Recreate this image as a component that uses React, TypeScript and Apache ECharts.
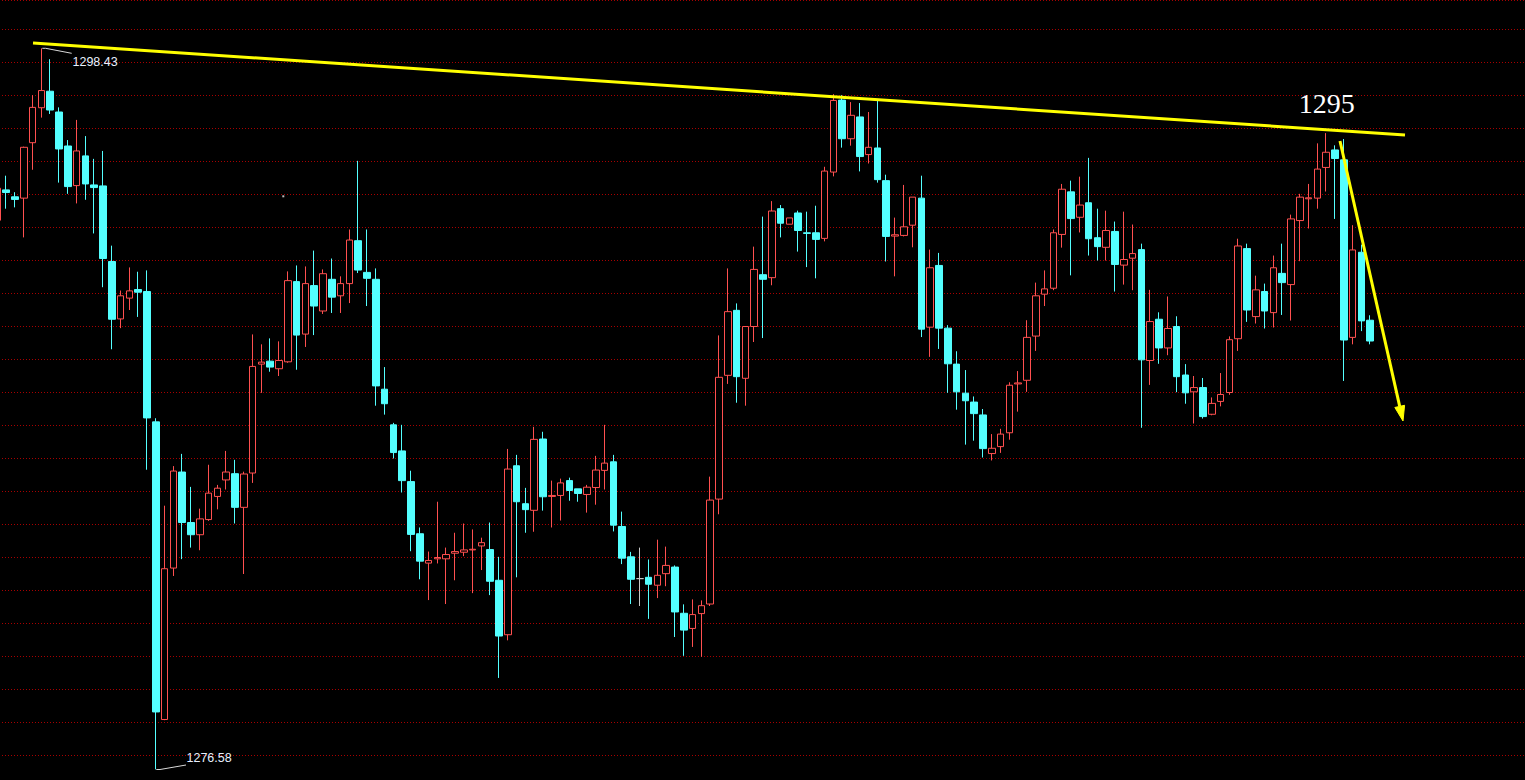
import React, { useEffect, useRef } from "react";
import * as echarts from "echarts";

// OHLC values, one entry per candle (left to right)
const opens = [
  1293.22, 1294.14, 1293.93, 1293.89, 1295.57, 1296.63, 1297.13, 1296.50, 1295.47, 1294.27,
  1295.17, 1294.29, 1294.26, 1291.97, 1290.23, 1290.86, 1291.12, 1291.06, 1287.11, 1278.09,
  1282.68, 1285.59, 1284.06, 1283.69, 1284.15, 1284.85, 1285.35, 1285.54, 1284.52, 1285.56,
  1288.86, 1288.95, 1288.72, 1288.93, 1291.36, 1289.77, 1291.24, 1290.47, 1291.43, 1290.93,
  1291.30, 1292.60, 1291.64, 1291.43, 1288.10, 1287.02, 1286.23, 1285.30, 1283.72, 1282.83,
  1282.96, 1282.96, 1283.13, 1283.16, 1283.23, 1283.35, 1283.24, 1282.31, 1280.66, 1285.78,
  1284.63, 1284.43, 1286.59, 1284.85, 1284.88, 1285.33, 1285.08, 1284.91, 1285.12, 1285.64,
  1285.90, 1283.94, 1283.02, 1282.36, 1282.40, 1282.16, 1282.51, 1282.71, 1281.31, 1280.85,
  1281.30, 1281.59, 1284.77, 1288.52, 1290.49, 1288.43, 1290.00, 1291.57, 1291.48, 1293.57,
  1293.10, 1293.44, 1292.84, 1292.84, 1292.67, 1294.68, 1296.86, 1295.69, 1296.35, 1295.21,
  1295.41, 1294.42, 1292.74, 1292.76, 1293.07, 1293.89, 1289.98, 1291.85, 1289.95, 1288.86,
  1287.98, 1287.71, 1287.32, 1286.15, 1286.36, 1286.78, 1288.26, 1288.37, 1289.71, 1290.98,
  1291.16, 1292.79, 1294.08, 1293.31, 1293.75, 1292.69, 1292.40, 1292.88, 1291.86, 1292.07,
  1292.33, 1288.97, 1290.22, 1289.35, 1290.00, 1288.53, 1288.02, 1288.15, 1287.34, 1287.73,
  1288.00, 1289.63, 1292.36, 1290.30, 1291.06, 1290.42, 1291.61, 1291.27, 1293.21, 1293.87,
  1293.89, 1294.82, 1295.35, 1295.05, 1289.67, 1292.25, 1290.19,
];
const closes = [
  1294.19, 1294.06, 1293.85, 1295.43, 1296.64, 1297.15, 1296.56, 1295.38, 1294.24, 1295.32,
  1294.32, 1294.21, 1292.06, 1290.22, 1290.93, 1291.08, 1291.04, 1287.23, 1278.32, 1282.66,
  1285.62, 1284.06, 1283.69, 1284.17, 1284.95, 1285.10, 1285.59, 1284.52, 1285.53, 1288.79,
  1288.92, 1288.77, 1288.97, 1291.39, 1289.74, 1291.30, 1290.62, 1291.60, 1290.89, 1291.30,
  1292.62, 1291.71, 1291.46, 1288.20, 1287.66, 1286.18, 1285.33, 1283.70, 1282.89, 1282.91,
  1283.00, 1283.09, 1283.18, 1283.23, 1283.25, 1283.45, 1282.28, 1280.62, 1285.68, 1284.69,
  1284.45, 1286.58, 1284.84, 1284.88, 1285.26, 1285.03, 1284.94, 1285.13, 1285.65, 1285.86,
  1283.98, 1282.98, 1282.34, 1282.36, 1282.19, 1282.46, 1282.76, 1281.35, 1280.80, 1281.27,
  1281.54, 1284.74, 1288.46, 1290.45, 1288.48, 1290.00, 1291.73, 1291.43, 1293.50, 1293.13,
  1293.29, 1292.91, 1292.82, 1292.64, 1294.71, 1296.85, 1295.69, 1296.40, 1295.15, 1295.43,
  1294.45, 1292.73, 1292.78, 1293.02, 1293.92, 1289.92, 1291.78, 1289.95, 1288.87, 1288.02,
  1287.75, 1287.36, 1286.30, 1286.31, 1286.74, 1288.22, 1288.29, 1289.67, 1290.93, 1291.14,
  1292.84, 1294.16, 1293.27, 1293.68, 1292.66, 1292.42, 1292.91, 1291.88, 1292.03, 1292.21,
  1288.99, 1290.15, 1289.35, 1289.94, 1288.48, 1287.99, 1288.15, 1287.27, 1287.67, 1287.94,
  1289.60, 1292.44, 1290.50, 1291.11, 1290.47, 1291.78, 1291.33, 1293.26, 1293.92, 1293.90,
  1294.77, 1295.28, 1295.09, 1289.59, 1292.32, 1290.17, 1289.56,
];
const lows = [
  1292.75, 1293.57, 1293.61, 1292.70, 1294.75, 1296.33, 1296.44, 1294.36, 1294.02, 1293.73,
  1293.84, 1292.82, 1291.19, 1289.31, 1289.95, 1290.50, 1290.29, 1285.66, 1276.58, 1278.07,
  1282.44, 1282.95, 1283.30, 1283.22, 1284.11, 1284.46, 1285.06, 1284.03, 1282.50, 1285.26,
  1287.99, 1288.63, 1288.50, 1288.90, 1288.69, 1289.38, 1289.74, 1290.38, 1290.41, 1290.41,
  1290.71, 1291.62, 1290.62, 1287.60, 1287.33, 1286.00, 1284.97, 1283.19, 1282.34, 1281.71,
  1282.82, 1281.59, 1282.31, 1283.04, 1281.92, 1282.62, 1281.86, 1279.35, 1280.49, 1282.40,
  1283.75, 1283.78, 1284.42, 1283.91, 1284.12, 1284.72, 1284.69, 1284.36, 1284.60, 1285.06,
  1283.79, 1282.80, 1281.59, 1281.53, 1281.14, 1281.77, 1282.13, 1280.59, 1280.02, 1280.29,
  1279.99, 1281.53, 1284.31, 1288.26, 1287.69, 1287.60, 1289.53, 1289.65, 1291.25, 1292.70,
  1293.10, 1292.27, 1291.80, 1291.46, 1292.58, 1294.55, 1295.42, 1295.48, 1294.70, 1294.94,
  1294.36, 1291.97, 1291.52, 1292.73, 1292.40, 1289.68, 1289.08, 1289.32, 1287.99, 1287.48,
  1286.42, 1286.54, 1286.03, 1285.94, 1286.17, 1286.57, 1287.42, 1288.02, 1289.26, 1290.62,
  1291.10, 1292.39, 1291.55, 1292.85, 1292.15, 1292.00, 1292.00, 1291.06, 1291.27, 1291.10,
  1286.93, 1288.23, 1288.87, 1289.13, 1288.01, 1287.66, 1287.06, 1287.21, 1287.31, 1287.58,
  1287.93, 1289.26, 1290.14, 1290.09, 1289.94, 1289.97, 1290.35, 1290.18, 1291.98, 1292.97,
  1293.57, 1294.09, 1293.26, 1288.35, 1289.46, 1289.86, 1289.46,
];
const highs = [
  1294.35, 1294.57, 1294.07, 1295.45, 1297.01, 1298.43, 1298.10, 1296.64, 1295.65, 1296.26,
  1295.77, 1295.08, 1295.32, 1292.45, 1291.09, 1291.79, 1291.66, 1291.70, 1287.22, 1284.57,
  1285.77, 1286.14, 1285.14, 1284.48, 1285.81, 1285.20, 1286.23, 1285.96, 1285.60, 1289.76,
  1289.46, 1289.64, 1289.55, 1291.67, 1291.85, 1291.82, 1292.30, 1291.73, 1292.06, 1291.52,
  1292.94, 1295.02, 1292.94, 1291.76, 1288.77, 1287.08, 1287.02, 1285.63, 1283.91, 1283.18,
  1284.69, 1283.30, 1283.75, 1284.03, 1283.85, 1283.60, 1284.06, 1283.02, 1286.29, 1286.11,
  1285.11, 1286.96, 1286.81, 1285.33, 1285.39, 1285.42, 1285.08, 1285.20, 1286.08, 1287.02,
  1286.11, 1284.39, 1283.17, 1283.30, 1282.94, 1283.54, 1283.33, 1282.76, 1281.58, 1281.73,
  1281.70, 1285.45, 1289.73, 1291.76, 1290.70, 1290.00, 1292.42, 1293.33, 1293.80, 1293.68,
  1293.29, 1293.51, 1293.48, 1293.66, 1294.84, 1297.04, 1297.01, 1296.80, 1296.77, 1296.50,
  1296.86, 1294.60, 1293.30, 1294.29, 1293.92, 1294.57, 1292.33, 1292.23, 1290.04, 1289.25,
  1288.68, 1287.88, 1287.50, 1286.74, 1286.90, 1288.31, 1288.65, 1290.19, 1291.33, 1291.70,
  1292.94, 1294.32, 1294.42, 1294.54, 1295.11, 1293.57, 1293.51, 1293.18, 1293.48, 1293.09,
  1292.51, 1291.11, 1290.43, 1290.91, 1290.31, 1288.86, 1288.50, 1288.44, 1287.85, 1288.59,
  1289.70, 1292.66, 1292.51, 1291.54, 1291.30, 1292.15, 1292.51, 1293.39, 1294.02, 1294.32,
  1295.55, 1295.86, 1295.49, 1295.68, 1293.07, 1292.48, 1290.34,
];

// Price axis: grid lines every 1.00, counted from a whole-number minimum
const priceMin = 1276;
const priceStep = 1;

// Annotation texts
const highLabel = "1298.43";
const lowLabel = "1276.58";
const targetLabel = "1295";

// Category slots (bars plus empty space on the right)
const slotCount = 174;
const categories = Array.from({ length: slotCount }, (_, i) => String(i + 1));

const UP = "#ff5050";
const DOWN = "#54ffff";
const YELLOW = "#ffff00";

// 33 px per price unit; plot extends 8.5 px below the page edge
const PX_PER_UNIT = 33;
const GRID_HEIGHT = 788.5;
const PRICE_MAX = priceMin + GRID_HEIGHT / PX_PER_UNIT;

export default function App() {
  const ref = useRef<HTMLDivElement>(null);

  useEffect(() => {
    if (!ref.current) return;
    const chart = echarts.init(ref.current, null, { renderer: "svg" });
    const candles = opens.map((o, i) => [o, closes[i], lows[i], highs[i]]);

    // arrow geometry
    const ax0 = 1340, ay0 = 141, ax1 = 1403, ay1 = 421;
    const len = Math.hypot(ax1 - ax0, ay1 - ay0);
    const ux = (ax1 - ax0) / len, uy = (ay1 - ay0) / len;
    const hl = 15, hw = 5;
    const bx = ax1 - ux * hl, by = ay1 - uy * hl;
    const px = -uy, py = ux;

    chart.setOption({
      animation: false,
      backgroundColor: "#000000",
      grid: {
        left: -7,
        top: 0,
        width: 1531.2,
        height: GRID_HEIGHT,
        containLabel: false,
        outerBoundsMode: "none",
      },
      xAxis: {
        type: "category",
        data: categories,
        show: false,
        boundaryGap: true,
      },
      yAxis: {
        type: "value",
        min: priceMin,
        max: PRICE_MAX,
        interval: priceStep,
        axisLine: { show: false },
        axisTick: { show: false },
        axisLabel: { show: false },
        splitLine: {
          show: true,
          lineStyle: { color: "#a80000", type: [1, 2], width: 1 },
        },
      },
      series: [
        {
          type: "candlestick",
          z: 2,
          data: candles,
          barWidth: 7,
          itemStyle: {
            color: "#000000",
            color0: DOWN,
            borderColor: UP,
            borderColor0: DOWN,
            borderColorDoji: "#c8c8c8",
            borderWidth: 1,
          },
        },
      ],
      graphic: [
        {
          type: "line",
          silent: true,
          z: 10,
          shape: { x1: 33, y1: 43, x2: 1405, y2: 135 },
          style: { stroke: YELLOW, lineWidth: 3 },
        },
        {
          type: "line",
          silent: true,
          z: 10,
          shape: { x1: ax0, y1: ay0, x2: bx, y2: by },
          style: { stroke: YELLOW, lineWidth: 3 },
        },
        {
          type: "polygon",
          silent: true,
          z: 10,
          shape: {
            points: [
              [ax1, ay1],
              [bx + px * hw, by + py * hw],
              [bx - px * hw, by - py * hw],
            ],
          },
          style: { fill: YELLOW, stroke: YELLOW, lineWidth: 1 },
        },
        {
          type: "polyline",
          silent: true,
          z: 10,
          shape: { points: [[42.3, 48.3], [45.7, 48.3], [71.7, 53.3]] },
          style: { stroke: "#d8d8d8", lineWidth: 1, fill: "none" },
        },
        {
          type: "polyline",
          silent: true,
          z: 10,
          shape: { points: [[156.3, 769.5], [160, 769.5], [186, 765]] },
          style: { stroke: "#d8d8d8", lineWidth: 1, fill: "none" },
        },
        {
          type: "text",
          silent: true,
          z: 10,
          x: 72.5,
          y: 61.7,
          style: {
            text: highLabel,
            fill: "#e8f0ff",
            fontSize: 12.5,
            fontFamily: "Liberation Sans",
            align: "left",
            verticalAlign: "middle",
          },
        },
        {
          type: "text",
          silent: true,
          z: 10,
          x: 186.5,
          y: 757.5,
          style: {
            text: lowLabel,
            fill: "#e8f0ff",
            fontSize: 12.5,
            fontFamily: "Liberation Sans",
            align: "left",
            verticalAlign: "middle",
          },
        },
        {
          type: "text",
          silent: true,
          z: 10,
          x: 1326.7,
          y: 103.5,
          style: {
            text: targetLabel,
            fill: "#ffffff",
            fontSize: 28,
            fontFamily: "Liberation Serif",
            align: "center",
            verticalAlign: "middle",
          },
        },
        {
          type: "rect",
          silent: true,
          z: 10,
          shape: { x: 282.3, y: 195.3, width: 2, height: 2 },
          style: { fill: "#bbbbbb" },
        },
      ],
    });

    return () => chart.dispose();
  }, []);

  return (
    <div
      ref={ref}
      style={{
        position: "fixed",
        left: 0,
        top: 0,
        width: 1525,
        height: 780,
        background: "#000000",
      }}
    />
  );
}
